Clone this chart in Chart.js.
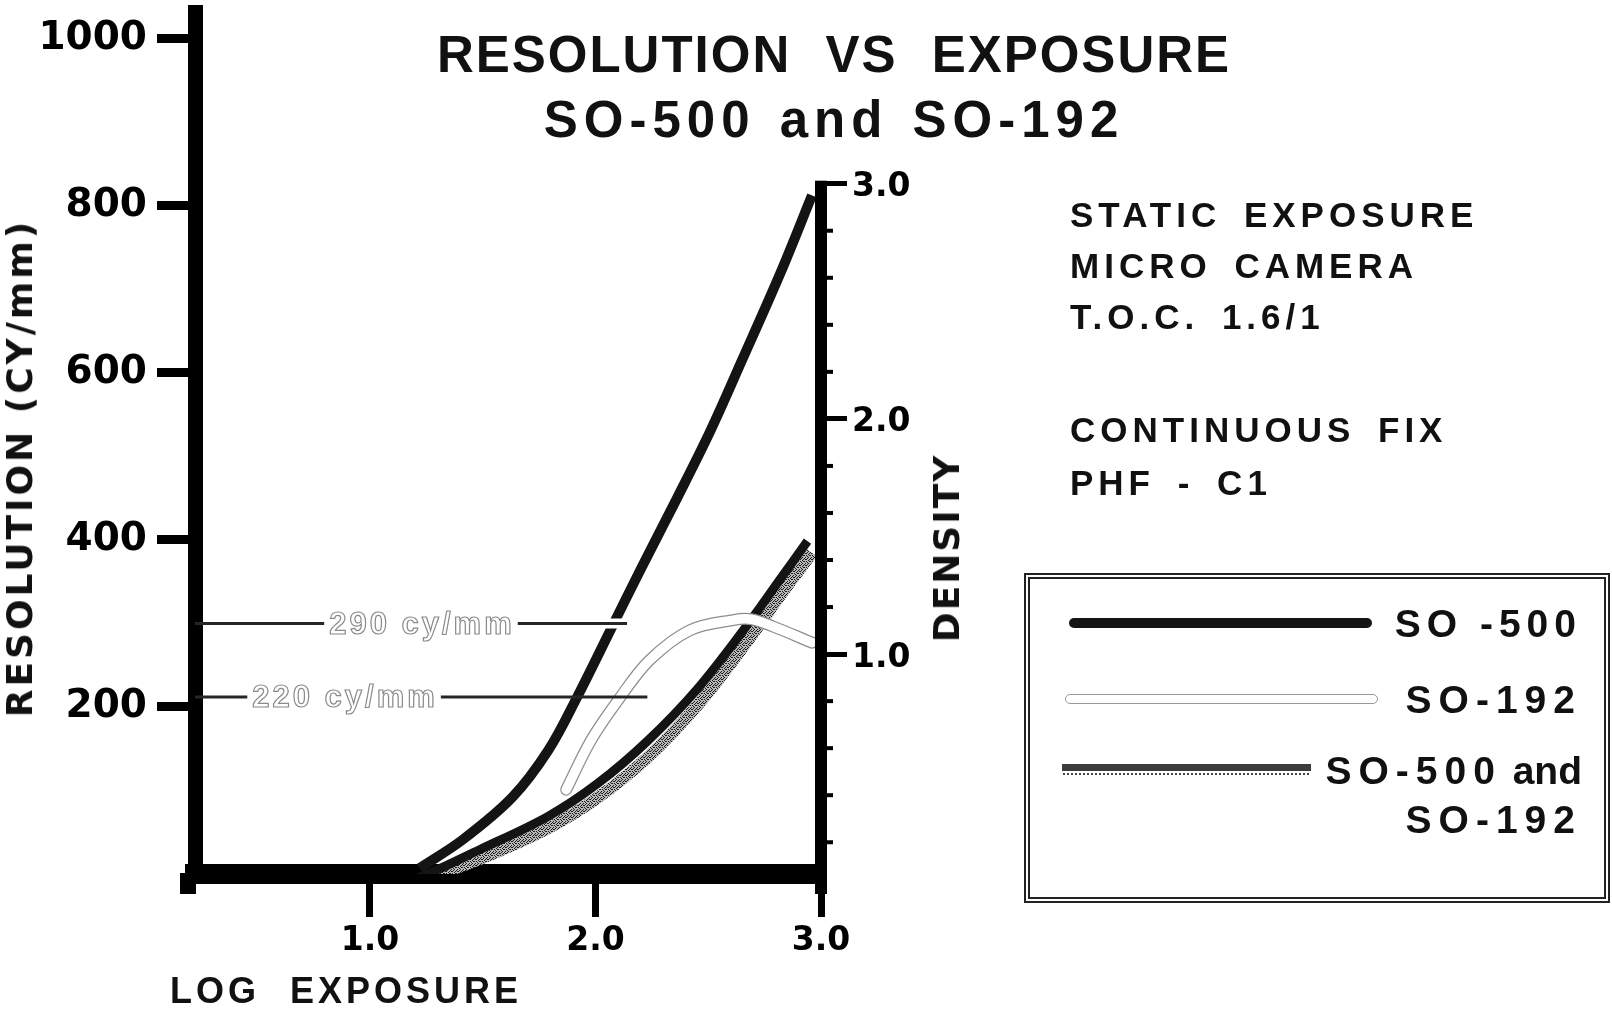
<!DOCTYPE html>
<html>
<head>
<meta charset="utf-8">
<title>Resolution vs Exposure - SO-500 and SO-192</title>
<script src="https://cdn.jsdelivr.net/npm/chart.js@4.4.0/dist/chart.umd.min.js"></script>
<style>
    html, body { margin: 0; padding: 0; background: #fff; }
    #wrap { position: relative; width: 1612px; height: 1011px; overflow: hidden; background: #fff; }
    #chart { position: absolute; left: 0; top: 0; }
    .txt {
        position: absolute;
        white-space: nowrap;
        font-family: "Liberation Sans", Arial, sans-serif;
        font-weight: bold;
        color: #111;
        line-height: 1;
    }
    .wide { font-family: "DejaVu Sans", sans-serif; }
    .title { font-size: 51px; letter-spacing: 2px; transform: translateX(-50%); }
    .note { font-size: 35px; letter-spacing: 5px; word-spacing: 8px; left: 1070px; }
    .legtxt { font-size: 39px; letter-spacing: 7px; text-align: right; }
    #legend {
        position: absolute; left: 1024px; top: 573px; width: 586px; height: 330px;
        box-sizing: border-box; border: 6px double #222;
    }
    .sample { position: absolute; }
</style>
</head>
<body>
<div id="wrap">
    <canvas id="chart" width="1612" height="1011"></canvas>

    <div class="txt title" style="left:834px; top:29px; word-spacing:18px;">RESOLUTION VS EXPOSURE</div>
    <div class="txt title" style="left:834px; top:94px; letter-spacing:6px; word-spacing:4px;">SO-500 and SO-192</div>

    <div class="txt wide" style="left:20px; top:468px; font-size:36px; letter-spacing:3px; transform:translate(-50%,-50%) rotate(-90deg);">RESOLUTION (CY/mm)</div>
    <div class="txt wide" style="left:947px; top:548px; font-size:36px; letter-spacing:2px; transform:translate(-50%,-50%) rotate(-90deg);">DENSITY</div>
    <div class="txt" style="left:170px; top:973px; font-size:36px; letter-spacing:4px; word-spacing:16px;">LOG EXPOSURE</div>

    <div class="txt note" style="top:197px;">STATIC EXPOSURE</div>
    <div class="txt note" style="top:248px;">MICRO CAMERA</div>
    <div class="txt note" style="top:299px;">T.O.C. 1.6/1</div>
    <div class="txt note" style="top:412px;">CONTINUOUS FIX</div>
    <div class="txt note" style="top:465px;">PHF - C1</div>

    <div id="legend"></div>
    <div class="sample" style="left:1069px; top:618px; width:303px; height:10px; background:#141414; border-radius:5px;"></div>
    <div class="sample" style="left:1065px; top:694px; width:311px; height:8px; border:1px solid #9a9a9a; border-radius:5px; background:#fff;"></div>
    <div class="sample" style="left:1062px; top:764px; width:249px; height:13px; background: linear-gradient(#3c3c3c, #3c3c3c) 0 0 / 100% 55% no-repeat, radial-gradient(#444 0.9px, transparent 1.3px) 0 0 / 4px 4px;"></div>
    <div class="txt legtxt" style="right:30px; top:604px; letter-spacing:6px;">SO -500</div>
    <div class="txt legtxt" style="right:30px; top:680px;">SO-192</div>
    <div class="txt legtxt" style="right:30px; top:751px; letter-spacing:0;"><span style="letter-spacing:7px;">SO-500</span> and</div>
    <div class="txt legtxt" style="right:30px; top:800px;">SO-192</div>
</div>

<script>
// axis ticks
const exposureTicks = [1.0, 2.0, 3.0];
const resolutionTicks = [200, 400, 600, 800, 1000];
const densityTicks = [1.0, 2.0, 3.0];
const densityMinorTicks = [0.2, 0.4, 0.6, 0.8, 1.2, 1.4, 1.6, 1.8, 2.2, 2.4, 2.6, 2.8];

// SO-500, steep curve (density)
const so500LogE    = [1.22, 1.41, 1.63, 1.79, 1.92, 2.06, 2.20, 2.36, 2.51, 2.65, 2.82, 2.96];
const so500Density = [0.09, 0.21, 0.39, 0.59, 0.82, 1.09, 1.36, 1.66, 1.95, 2.25, 2.62, 2.95];

// SO-500, lower curve (density)
const lowerLogE    = [1.16, 1.22, 1.49, 1.79, 2.01, 2.23, 2.45, 2.67, 2.82, 2.94];
const lowerDensity = [0.04, 0.05, 0.17, 0.31, 0.45, 0.63, 0.85, 1.12, 1.32, 1.48];

// SO-500 and SO-192 (stippled)
const comboLogE    = [1.18, 1.49, 1.79, 2.01, 2.23, 2.45, 2.67, 2.82, 2.96];
const comboDensity = [0.02, 0.13, 0.26, 0.39, 0.56, 0.78, 1.05, 1.25, 1.43];

// SO-192 (resolution)
const so192LogE       = [1.87, 1.98, 2.10, 2.24, 2.42, 2.61, 2.69, 2.79, 2.96];
const so192Resolution = [101, 160, 208, 256, 292, 304, 305, 296, 277];

// reference lines
const refLabels     = ['290 cy/mm', '220 cy/mm'];
const refResolution = [300, 212];
const refEndLogE    = [2.14, 2.23];

const X_MIN = 0.224, X_MAX = 3.0;

function pts(xs, ys) {
    return xs.map((x, i) => ({ x: x, y: ys[i] }));
}

function refLine(i) {
    return [{ x: X_MIN, y: refResolution[i] }, { x: refEndLogE[i], y: refResolution[i] }];
}

// pattern for the stippled curve
function stipple() {
    const c = document.createElement('canvas');
    c.width = 6; c.height = 6;
    const g = c.getContext('2d');
    g.fillStyle = '#b8b8b8';
    g.fillRect(0, 0, 6, 6);
    g.fillStyle = '#1c1c1c';
    [[0,0],[3,0],[1,1],[4,2],[0,3],[2,3],[5,3],[3,4],[1,5],[4,5],[5,1],[2,1]].forEach(p => g.fillRect(p[0], p[1], 1, 1));
    return g.createPattern(c, 'repeat');
}

const boldFont = (size) => ({ family: '"DejaVu Sans", sans-serif', size: size, weight: 'bold' });

// no extra padding for labels at the edges of the axes
function noPad(s) {
    s.paddingTop = 0; s.paddingBottom = 0; s.paddingLeft = 0; s.paddingRight = 0;
}

// right axis, corner and outlined labels
const extrasPlugin = {
    id: 'extras',
    afterDatasetsDraw(chart) {
        const ctx = chart.ctx;
        const area = chart.chartArea;
        const x = chart.scales.x, y = chart.scales.y, y1 = chart.scales.y1;
        ctx.save();

        // outlined labels on the reference lines
        ctx.font = 'bold 31px "Liberation Sans", Arial, sans-serif';
        ctx.letterSpacing = '3px';
        ctx.textAlign = 'center';
        ctx.textBaseline = 'middle';
        const labelAt = [1.226, 0.885];
        refLabels.forEach((txt, i) => {
            const cx = x.getPixelForValue(labelAt[i]);
            const cy = y.getPixelForValue(refResolution[i]);
            const w = ctx.measureText(txt).width;
            ctx.fillStyle = '#fff';
            ctx.fillRect(cx - w / 2 - 4, cy - 6, w + 8, 12);
            ctx.lineWidth = 1.2;
            ctx.strokeStyle = '#8a8a8a';
            ctx.strokeText(txt, cx + 1, cy + 2);
        });

        // density axis
        const ax = x.getPixelForValue(3.0);
        const top = y1.getPixelForValue(3.0);
        ctx.fillStyle = '#000';
        ctx.fillRect(ax - 6, top - 3, 12, area.bottom + 20 - top + 3);
        densityMinorTicks.forEach(d => {
            const py = y1.getPixelForValue(d);
            ctx.fillRect(ax + 6, py - 2, 6, 4);
        });

        // corner of the frame
        ctx.fillRect(area.left - 15, area.bottom - 1, 16, 21);
        ctx.restore();
    }
};

const ctx = document.getElementById('chart').getContext('2d');
new Chart(ctx, {
    type: 'line',
    data: {
        datasets: [
            {
                label: '290 cy/mm',
                data: refLine(0),
                yAxisID: 'y', borderColor: '#262626', borderWidth: 3, order: 1
            },
            {
                label: '220 cy/mm',
                data: refLine(1),
                yAxisID: 'y', borderColor: '#262626', borderWidth: 3, order: 2
            },
            {
                // white gap where the 290 line cuts the SO-500 curve
                label: '290 gap',
                data: [{ x: refEndLogE[0] - 0.3, y: refResolution[0] }, { x: refEndLogE[0], y: refResolution[0] }],
                yAxisID: 'y', borderColor: '#ffffff', borderWidth: 10, order: 2.5
            },
            {
                label: 'SO-500',
                data: pts(so500LogE, so500Density),
                yAxisID: 'y1', borderColor: '#141414', borderWidth: 10, order: 3
            },
            {
                label: 'SO-192',
                data: pts(so192LogE, so192Resolution),
                yAxisID: 'y', borderColor: '#ffffff', borderWidth: 9.5, borderCapStyle: 'round', order: 4
            },
            {
                label: 'SO-192 outline',
                data: pts(so192LogE, so192Resolution),
                yAxisID: 'y', borderColor: '#8d8d8d', borderWidth: 12, borderCapStyle: 'round', order: 5
            },
            {
                label: 'SO-500 (lower)',
                data: pts(lowerLogE, lowerDensity),
                yAxisID: 'y1', borderColor: '#141414', borderWidth: 9, order: 6
            },
            {
                label: 'SO-500 and SO-192',
                data: pts(comboLogE, comboDensity),
                yAxisID: 'y1', borderColor: stipple(), borderWidth: 12, order: 7
            }
        ]
    },
    options: {
        responsive: false,
        animation: false,
        devicePixelRatio: 1,
        layout: { padding: { top: 12, right: 631, left: 0, bottom: 0 } },
        elements: {
            point: { radius: 0, hoverRadius: 0 },
            line: { tension: 0.35, fill: false, borderJoinStyle: 'round' }
        },
        plugins: {
            legend: { display: false },
            tooltip: { enabled: false },
            title: { display: false }
        },
        scales: {
            x: {
                type: 'linear',
                position: 'bottom',
                min: X_MIN, max: X_MAX,
                afterBuildTicks: s => { s.ticks = exposureTicks.map(v => ({ value: v })); },
                afterFit: s => { s.height = 137; noPad(s); },
                ticks: {
                    autoSkip: false, maxRotation: 0, padding: 5,
                    color: '#000', font: boldFont(33),
                    callback: v => v.toFixed(1)
                },
                grid: { drawOnChartArea: false, drawTicks: true, tickLength: 43, tickWidth: 7, tickColor: '#000' },
                border: { display: true, width: 20, color: '#000' }
            },
            y: {
                type: 'linear',
                position: 'left',
                min: 0, max: 1032,
                afterBuildTicks: s => { s.ticks = resolutionTicks.map(v => ({ value: v })); },
                afterFit: s => { s.width = 195; noPad(s); },
                ticks: {
                    padding: 10, color: '#000', font: boldFont(39),
                    callback: v => String(v)
                },
                grid: { drawOnChartArea: false, drawTicks: true, tickLength: 38, tickWidth: 9, tickColor: '#000' },
                border: { display: true, width: 15, color: '#000' }
            },
            y1: {
                type: 'linear',
                position: 'right',
                min: 0.065, max: 3.73,
                afterBuildTicks: s => { s.ticks = densityTicks.map(v => ({ value: v })); },
                afterFit: s => { s.width = 160; noPad(s); },
                ticks: {
                    padding: 5, labelOffset: 4, color: '#000', font: boldFont(33),
                    callback: v => v.toFixed(1)
                },
                grid: { drawOnChartArea: false, drawTicks: true, tickLength: 26, tickWidth: 5, tickColor: '#000' },
                border: { display: false }
            }
        }
    },
    plugins: [extrasPlugin]
});
</script>
</body>
</html>
